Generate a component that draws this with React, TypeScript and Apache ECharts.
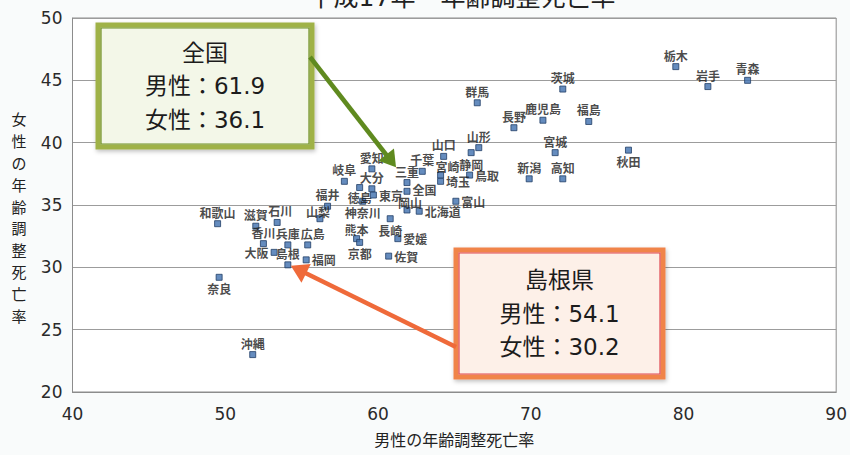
import React, { useEffect, useRef } from "react";
import * as echarts from "echarts";

// 都道府県別 年齢調整死亡率（平成17年）
const prefectures = [
  "青森", "岩手", "栃木", "茨城", "群馬", "長野", "鹿児島", "福島", "山形", "宮城",
  "秋田", "新潟", "高知", "山口", "静岡", "鳥取", "宮崎", "埼玉", "千葉", "三重",
  "全国", "岡山", "北海道", "富山", "愛知", "岐阜", "大分", "東京", "徳島", "福井",
  "神奈川", "山梨", "熊本", "京都", "長崎", "愛媛", "佐賀", "和歌山", "滋賀", "石川",
  "香川", "兵庫", "広島", "大阪", "島根", "福岡", "奈良", "沖縄",
];
const maleRates = [
  84.2, 81.6, 79.5, 72.1, 66.5, 68.9, 70.8, 73.8, 66.6, 71.6,
  76.4, 69.9, 72.1, 64.3, 66.1, 66.0, 64.1, 64.1, 62.9, 61.9,
  61.9, 61.9, 62.7, 65.1, 59.6, 57.8, 59.6, 59.7, 58.8, 56.7,
  59.0, 56.2, 58.6, 58.8, 60.8, 61.3, 60.7, 49.5, 52.0, 53.4,
  52.5, 54.1, 55.4, 53.2, 54.1, 55.3, 49.6, 51.8,
];
const femaleRates = [
  45.0, 44.5, 46.1, 44.3, 43.2, 41.2, 41.8, 41.7, 39.6, 39.2,
  39.4, 37.1, 37.1, 38.9, 39.2, 37.4, 37.4, 36.9, 37.7, 36.8,
  36.1, 34.6, 34.5, 35.3, 37.9, 36.9, 36.3, 35.8, 36.4, 34.9,
  35.3, 33.9, 32.3, 32.0, 33.9, 32.3, 30.9, 33.5, 33.3, 33.6,
  31.9, 31.8, 31.8, 31.2, 30.2, 30.6, 29.2, 23.0,
];

const xTicks = { min: 40, max: 90, step: 10 };
const yTicks = { min: 20, max: 50, step: 5 };

const titleText = "平成17年・年齢調整死亡率";
const xName = "男性の年齢調整死亡率";
const yName = "女性の年齢調整死亡率";

// where each point's name sits relative to its marker (default: above)
const labelPlacement: Record<string, { position?: string; offset?: number[] }> = {
  秋田: { position: "bottom" },
  静岡: { position: "bottom" },
  鳥取: { position: "right" },
  埼玉: { position: "right" },
  宮崎: { offset: [7, 3] },
  全国: { position: "right", offset: [0, -2] },
  岡山: { offset: [3, 4] },
  北海道: { position: "right" },
  富山: { position: "right" },
  東京: { position: "right" },
  徳島: { position: "bottom", offset: [0, -2] },
  京都: { position: "bottom" },
  長崎: { position: "bottom" },
  愛媛: { position: "right" },
  佐賀: { position: "right" },
  大阪: { position: "left" },
  福岡: { position: "right" },
  奈良: { position: "bottom" },
  神奈川: { position: "bottom" },
  山梨: { offset: [-2, 4] },
  熊本: { offset: [0, 2] },
  石川: { offset: [3, 0] },
  広島: { offset: [5, 0] },
};

const CJK = '"Noto Sans CJK JP", "Noto Sans", sans-serif';
const MIXED = '"DejaVu Sans", "Noto Sans CJK JP", sans-serif';

function arrow(from: number[], tip: number[], color: string, width: number, head: number) {
  const dx = tip[0] - from[0];
  const dy = tip[1] - from[1];
  const len = Math.hypot(dx, dy);
  const ux = dx / len;
  const uy = dy / len;
  const nx = -uy;
  const ny = ux;
  const bx = tip[0] - ux * head;
  const by = tip[1] - uy * head;
  const hw = head * 0.62;
  return [
    {
      type: "line",
      z: 20,
      shape: { x1: from[0], y1: from[1], x2: bx + ux * 2, y2: by + uy * 2 },
      style: { stroke: color, lineWidth: width, lineCap: "butt" },
    },
    {
      type: "polygon",
      z: 20,
      shape: {
        points: [
          [tip[0], tip[1]],
          [bx + nx * hw, by + ny * hw],
          [bx - nx * hw, by - ny * hw],
        ],
      },
      style: { fill: color },
    },
  ];
}

function callout(
  x: number, y: number, w: number, h: number,
  lines: string[], fill: string, outer: string, inner: string,
) {
  const cx = x + w / 2;
  const lineGap = 33.5;
  const top = y + h / 2 - lineGap;
  return [
    {
      type: "rect",
      z: 15,
      shape: { x, y, width: w, height: h },
      style: {
        fill, stroke: outer, lineWidth: 5,
        shadowBlur: 4, shadowOffsetX: 1, shadowOffsetY: 2, shadowColor: "rgba(0,0,0,0.25)",
      },
    },
    {
      type: "rect",
      z: 16,
      shape: { x: x + 3, y: y + 3, width: w - 6, height: h - 6 },
      style: { fill: "none", stroke: inner, lineWidth: 1.2 },
    },
    ...lines.map((t, i) => ({
      type: "text",
      z: 17,
      x: cx,
      y: top + i * lineGap,
      style: {
        text: t,
        font: `23px ${MIXED}`,
        fill: "#1c1c1c",
        textAlign: "center",
        textVerticalAlign: "middle",
      },
    })),
  ];
}

export default function App() {
  const ref = useRef<HTMLDivElement>(null);

  useEffect(() => {
    document.body.style.margin = "0";
    const chart = echarts.init(ref.current!, undefined, { renderer: "svg" });

    const points = prefectures.map((name, i) => {
      const place = labelPlacement[name] ?? {};
      return {
        name,
        value: [maleRates[i], femaleRates[i]],
        label: {
          position: place.position ?? "top",
          ...(place.offset ? { offset: place.offset } : {}),
        },
      };
    });

    chart.setOption({
      animation: false,
      backgroundColor: "#f9fbfb",
      grid: {
        left: 72.5,
        right: 12,
        top: 18,
        bottom: 63,
        show: true,
        backgroundColor: "#ffffff",
        borderColor: "#8c8c8c",
        borderWidth: 1,
      },
      xAxis: {
        type: "value",
        min: xTicks.min,
        max: xTicks.max,
        interval: xTicks.step,
        name: xName,
        nameLocation: "middle",
        nameGap: 39,
        nameTextStyle: { fontFamily: CJK, fontSize: 16, color: "#222" },
        axisLine: { show: true, lineStyle: { color: "#8c8c8c" } },
        axisTick: { show: false },
        splitLine: { show: false },
        axisLabel: { margin: 13, fontFamily: MIXED, fontSize: 17, color: "#2a2a2a" },
      },
      yAxis: {
        type: "value",
        min: yTicks.min,
        max: yTicks.max,
        interval: yTicks.step,
        axisLine: { show: true, lineStyle: { color: "#8c8c8c" } },
        axisTick: { show: false },
        splitLine: { show: true, lineStyle: { color: "#9c9c9c", width: 1 } },
        axisLabel: { margin: 10, fontFamily: MIXED, fontSize: 17, color: "#2a2a2a" },
      },
      series: [
        {
          type: "scatter",
          symbol: "rect",
          symbolSize: 6,
          itemStyle: { color: "#3f6fae", borderColor: "#223e66", borderWidth: 1 },
          label: {
            show: true,
            formatter: "{b}",
            distance: 2,
            fontFamily: CJK,
            fontSize: 12,
            fontWeight: "bold",
            color: "#1a1a1a",
          },
          data: points,
          z: 5,
        },
      ],
    });

    const iNat = prefectures.indexOf("全国");
    const iShimane = prefectures.indexOf("島根");
    const pNat = chart.convertToPixel({ seriesIndex: 0 }, [maleRates[iNat], femaleRates[iNat]]) as number[];
    const pShi = chart.convertToPixel({ seriesIndex: 0 }, [maleRates[iShimane], femaleRates[iShimane]]) as number[];

    chart.setOption({
      graphic: [
        {
          type: "text",
          x: 462,
          y: 10,
          style: {
            text: titleText,
            font: `25px ${MIXED}`,
            fill: "#222",
            textAlign: "center",
            textVerticalAlign: "bottom",
          },
        },
        {
          type: "text",
          x: 19,
          y: 217,
          style: {
            text: yName.split("").join("\n"),
            font: `15px ${CJK}`,
            lineHeight: 21.8,
            fill: "#222",
            textAlign: "center",
            textVerticalAlign: "middle",
          },
        },
        ...callout(98, 25, 214, 122, [
          "全国",
          `男性：${maleRates[iNat].toFixed(1)}`,
          `女性：${femaleRates[iNat].toFixed(1)}`,
        ], "#f3f7e8", "#9fb246", "#6f8f22"),
        ...arrow([310, 57], [pNat[0] - 11, pNat[1] - 24], "#5f8a1f", 4.5, 16),
        ...callout(456, 250, 207, 127, [
          "島根県",
          `男性：${maleRates[iShimane].toFixed(1)}`,
          `女性：${femaleRates[iShimane].toFixed(1)}`,
        ], "#fdf0e8", "#f0844a", "#e0474f"),
        ...arrow([456, 347], [pShi[0] + 3, pShi[1] + 1], "#ef6a3a", 4.5, 17),
      ],
    });

    return () => chart.dispose();
  }, []);

  return (
    <div
      ref={ref}
      style={{ position: "fixed", left: 0, top: 0, width: 850, height: 455 }}
    />
  );
}
